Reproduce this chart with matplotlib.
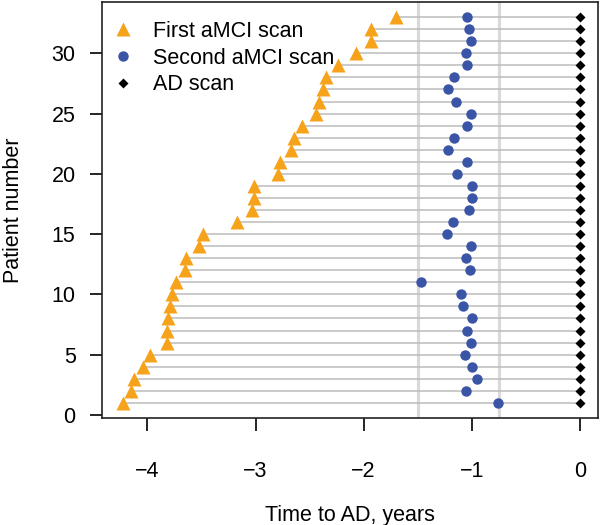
import numpy as np
import matplotlib
matplotlib.use('Agg')
import matplotlib.pyplot as plt

plt.rcParams['font.family'] = ['Liberation Sans', 'DejaVu Sans']

# time to AD (years) for each patient
patients = np.arange(1, 34)
first_scan = [-4.23, -4.15, -4.12, -4.04, -3.98, -3.82, -3.82, -3.81, -3.79, -3.77,
              -3.74, -3.65, -3.64, -3.52, -3.49, -3.17, -3.03, -3.01, -3.01, -2.79,
              -2.77, -2.67, -2.64, -2.57, -2.44, -2.41, -2.38, -2.35, -2.24, -2.07,
              -1.93, -1.93, -1.70]
second_scan = [-0.76, -1.05, -0.95, -1.00, -1.06, -1.01, -1.04, -1.00, -1.08, -1.10,
               -1.47, -1.02, -1.05, -1.01, -1.23, -1.17, -1.03, -1.00, -1.00, -1.14,
               -1.04, -1.22, -1.16, -1.04, -1.01, -1.15, -1.22, -1.16, -1.04, -1.05,
               -1.01, -1.03, -1.04]
ad_scan = [0.0] * 33
ref_lines = [-1.5, -0.75]

fs = 15.5

fig = plt.figure(figsize=(6.01, 5.25), dpi=100)
ax = fig.add_axes([102 / 601, 1 - 418.3 / 525, 496.3 / 601, 416.6 / 525])

for xv in ref_lines:
    ax.axvline(xv, color='#d9d9d9', lw=2.2, zorder=1)

ax.hlines(patients, first_scan, ad_scan, color='#bcbcbc', lw=1.1, zorder=2)

ax.plot(first_scan, patients, '^', color='#f7a21b', ms=10, mec='none', zorder=3,
        label='First aMCI scan')
ax.plot(second_scan, patients, 'o', color='#3a54a6', ms=7.5, mec='none', zorder=3,
        label='Second aMCI scan')
ax.plot(ad_scan, patients, 'D', color='black', ms=5.5, mec='none', zorder=4,
        label='AD scan')

ax.set_xlim(-4.42, 0.17)
ax.set_ylim(-0.28, 34.28)
ax.set_xticks([-4, -3, -2, -1, 0])
ax.set_yticks([0, 5, 10, 15, 20, 25, 30])
ax.tick_params(axis='x', length=9.5, width=1.2, pad=21, labelsize=fs)
ax.tick_params(axis='y', length=9, width=1.2, pad=10, labelsize=fs)
for s in ax.spines.values():
    s.set_linewidth(1.2)
    s.set_color('#222222')

ax.set_xlabel('Time to AD, years', fontsize=fs, labelpad=17)
ax.set_ylabel('Patient number', fontsize=fs, labelpad=20)

ax.legend(loc='upper left', bbox_to_anchor=(0.021, 0.954), frameon=False,
          fontsize=fs, borderpad=0, borderaxespad=0, handlelength=1.0,
          handletextpad=0.9, labelspacing=0.27)

fig.savefig('out.png', dpi=100)
